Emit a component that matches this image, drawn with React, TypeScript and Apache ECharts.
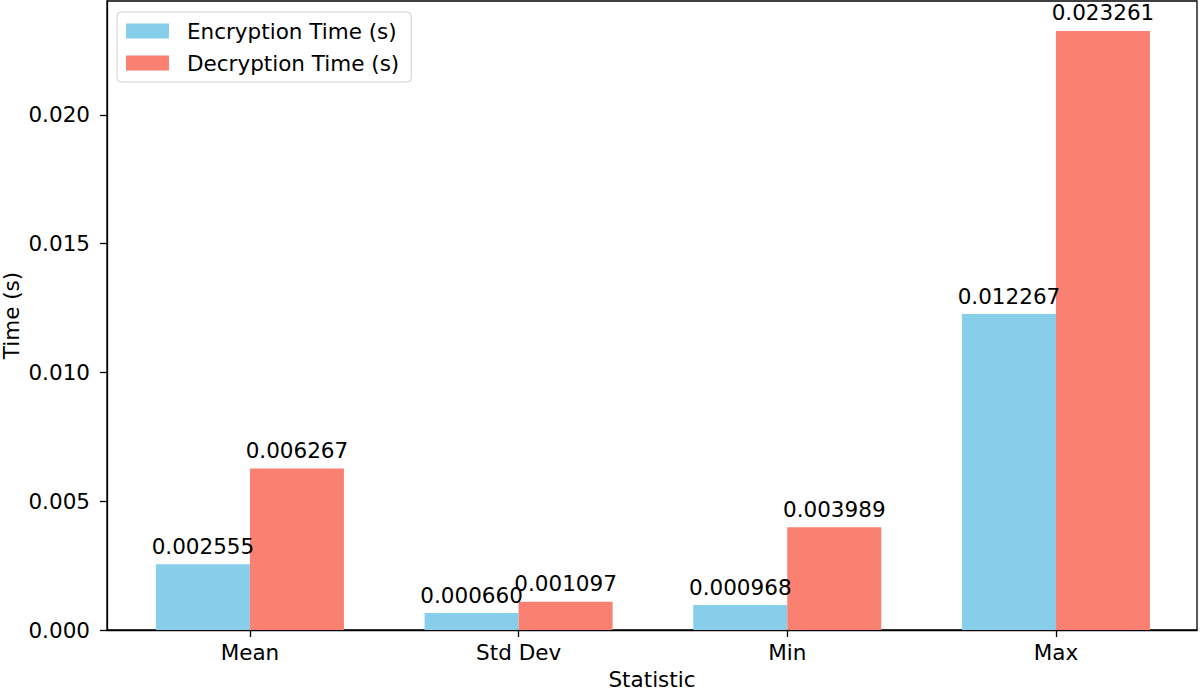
import React, { useEffect, useRef } from "react";
import * as echarts from "echarts";

const categories = ["Mean", "Std Dev", "Min", "Max"];
const encryptionTimes = [0.002555, 0.00066, 0.000968, 0.012267];
const decryptionTimes = [0.006267, 0.001097, 0.003989, 0.023261];
const yTickStep = 0.005;
const seriesNames = ["Encryption Time (s)", "Decryption Time (s)"];

const FONT = "DejaVu Sans";
const FS = 21.5;

export default function App() {
  const ref = useRef<HTMLDivElement>(null);
  useEffect(() => {
    document.body.style.margin = "0";
    if (!ref.current) return;
    const chart = echarts.init(ref.current, null, { renderer: "svg" });
    const positions = categories.map((_, i) => i);
    const yMax = Math.max(...decryptionTimes, ...encryptionTimes) * 1.05;
    const labelCfg = {
      show: true,
      position: "top",
      distance: 7,
      color: "#000",
      fontSize: FS,
      fontFamily: FONT,
      formatter: (p: any) => p.value[1].toFixed(6),
    };
    chart.setOption({
      animation: false,
      backgroundColor: "#fff",
      grid: {
        left: 107,
        right: 3,
        top: 1,
        bottom: 60,
        show: true,
        borderColor: "#000",
        borderWidth: 1.3,
        containLabel: false,
        outerBoundsMode: "none",
      },
      legend: {
        left: 117,
        top: 12,
        orient: "vertical",
        itemWidth: 43,
        itemHeight: 15,
        itemGap: 10,
        padding: [8, 12, 8, 9],
        borderColor: "#d0d0d0",
        borderWidth: 1,
        borderRadius: 4,
        backgroundColor: "rgba(255,255,255,0.8)",
        textStyle: { fontSize: FS, fontFamily: FONT, color: "#000", padding: [0, 0, 0, 13] },
        data: seriesNames.map((n) => ({ name: n, icon: "rect" })),
      },
      xAxis: {
        type: "value",
        min: -0.532,
        max: 3.525,
        splitLine: { show: false },
        axisLine: { show: true, onZero: false, lineStyle: { color: "#000", width: 1.3 } },
        axisTick: {
          show: true,
          customValues: positions,
          length: 7,
          lineStyle: { color: "#000", width: 1.3 },
        },
        axisLabel: {
          customValues: positions,
          formatter: (v: number) => categories[Math.round(v)] ?? "",
          fontSize: FS,
          fontFamily: FONT,
          color: "#000",
          margin: 11,
        },
        name: "Statistic",
        nameLocation: "middle",
        nameGap: 38,
        nameMoveOverlap: false,
        nameTextStyle: { fontSize: FS, fontFamily: FONT, color: "#000" },
      },
      yAxis: {
        type: "value",
        min: 0,
        max: yMax,
        interval: yTickStep,
        splitLine: { show: false },
        axisLine: { show: true, onZero: false, lineStyle: { color: "#000", width: 1.3 } },
        axisTick: { show: true, length: 7, lineStyle: { color: "#000", width: 1.3 } },
        axisLabel: {
          fontSize: FS,
          fontFamily: FONT,
          color: "#000",
          margin: 17,
          showMaxLabel: false,
          formatter: (v: number) => v.toFixed(3),
        },
        name: "Time (s)",
        nameLocation: "middle",
        nameGap: 85,
        nameMoveOverlap: false,
        nameTextStyle: { fontSize: FS, fontFamily: FONT, color: "#000" },
      },
      series: [
        {
          name: seriesNames[0],
          type: "bar",
          barWidth: 94,
          barGap: "0%",
          itemStyle: { color: "#87CEEB" },
          label: labelCfg,
          data: encryptionTimes.map((v, i) => [positions[i], v]),
        },
        {
          name: seriesNames[1],
          type: "bar",
          barWidth: 94,
          barGap: "0%",
          itemStyle: { color: "#FA8072" },
          label: labelCfg,
          data: decryptionTimes.map((v, i) => [positions[i], v]),
        },
      ],
    });
    return () => chart.dispose();
  }, []);
  return <div ref={ref} style={{ width: 1200, height: 690 }} />;
}
